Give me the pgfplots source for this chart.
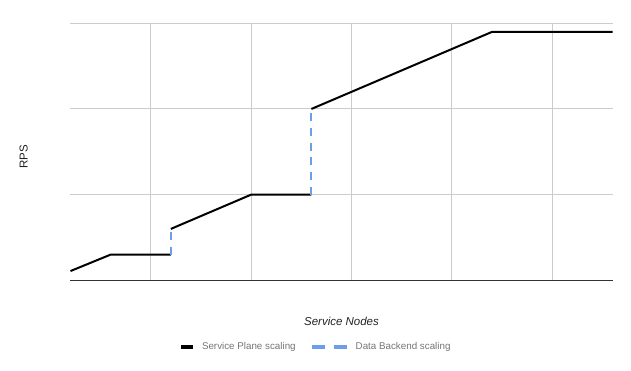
\documentclass[border=0pt]{standalone}
\usepackage{fontspec}
\setmainfont{Liberation Sans}
\usepackage{pgfplots}
\pgfplotsset{compat=1.18}
\definecolor{gridgrey}{HTML}{CCCCCC}
\definecolor{axisdark}{HTML}{333333}
\definecolor{legtext}{HTML}{757575}
\definecolor{labtext}{HTML}{222222}
\definecolor{dblue}{HTML}{6D9EEB}
\begin{document}
\begin{tikzpicture}
\path[use as bounding box] (-70.5pt,-90.7pt) rectangle (560.5pt,280.3pt);
\begin{axis}[
  scale only axis,
  width=542pt, height=257pt,
  xmin=1, xmax=28, ymin=0, ymax=3,
  xtick={5,10,15,20,25}, ytick={1,2,3},
  xticklabels={}, yticklabels={},
  major tick length=0pt,
  grid=major,
  grid style={draw=gridgrey, line width=1pt},
  axis line style={draw=none},
  extra y ticks={0},
  extra y tick labels={},
  extra y tick style={grid=major, grid style={draw=axisdark, line width=1.2pt}},
  clip=false,
  xlabel={Service Nodes},
  xlabel style={at={([yshift=-41.2pt]axis description cs:0.5,0)}, anchor=center, font=\fontsize{11.5}{13}\selectfont\itshape, text=labtext},
  ylabel={RPS},
  ylabel style={at={([xshift=-46.8pt,yshift=-4.7pt]axis description cs:0,0.5)}, anchor=center, font=\fontsize{11.5}{13}\selectfont, text=labtext},
  unbounded coords=jump,
  legend columns=2,
  legend cell align=left,
  legend style={at={([xshift=108.5pt,yshift=-66.5pt]axis description cs:0,0)}, anchor=west,
    draw=none, fill=none, inner sep=0pt, outer sep=0pt,
    font=\fontsize{9.8}{11}\selectfont, text=legtext,
    nodes={inner sep=0pt},
    /tikz/every odd column/.append style={column sep=7pt},
    /tikz/every even column/.append style={column sep=14pt}},
]
\addplot[black, line width=2pt, line join=round,
  legend image code/.code={\draw[black, line width=4pt] (0pt,0pt) -- (12pt,0pt);}]
  coordinates {(1,0.108) (3,0.30) (6,0.30) (6,nan) (6,0.60) (10,1.0) (13,1.0) (13,nan) (13,2.0) (22,2.9) (28,2.9)};
\addlegendentry{Service Plane scaling}
\addplot[dblue, line width=2pt, dash pattern=on 8pt off 6.7pt,
  legend image code/.code={\draw[dblue, line width=4pt, dash pattern=on 13pt off 9pt] (0pt,0pt) -- (35pt,0pt);}]
  coordinates {(6,0.30) (6,0.60) (6,nan) (13,1.0) (13,2.0)};
\addlegendentry{Data Backend scaling}
\end{axis}
\end{tikzpicture}
\end{document}
